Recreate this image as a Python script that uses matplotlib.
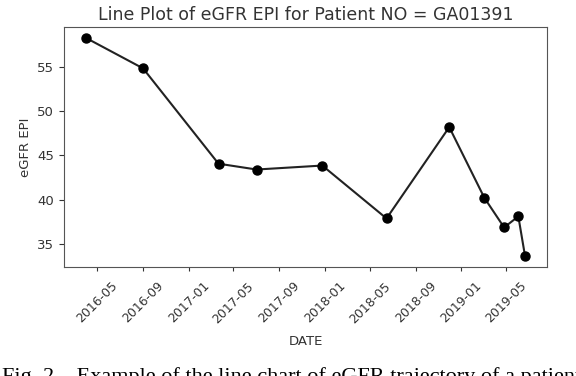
import pandas as pd
import matplotlib
matplotlib.use("Agg")
import matplotlib.pyplot as plt
import matplotlib.dates as mdates

dates = ["2016-04-01", "2016-09-01", "2017-03-22", "2017-07-02", "2017-12-25",
         "2018-06-15", "2018-11-30", "2019-03-04", "2019-04-26", "2019-06-03",
         "2019-06-21"]
egfr = [58.3, 54.85, 44.06, 43.4, 43.85, 37.86, 48.2, 40.2, 36.84, 38.1, 33.6]

patient_no = "GA01391"
caption = "Fig. 2.   Example of the line chart of eGFR trajectory of a patient"

x = pd.to_datetime(dates)

fig = plt.figure(figsize=(5.76, 3.76), dpi=100)
ax = fig.add_axes([64 / 576, 1 - 267 / 376, (547 - 64) / 576, (267 - 27) / 376])

ax.plot(x, egfr, color="#222222", marker="o", markersize=6.5, linewidth=1.5,
        markerfacecolor="black", markeredgecolor="black")

ax.set_title(f"Line Plot of eGFR EPI for Patient NO = {patient_no}",
             fontsize=12.5, color="#333333", pad=5)
ax.set_xlabel("DATE", fontsize=9.5, color="#333333", labelpad=7)
ax.set_ylabel("eGFR EPI", fontsize=9.5, color="#333333")

ax.xaxis.set_major_locator(mdates.MonthLocator(bymonth=[1, 5, 9]))
ax.xaxis.set_major_formatter(mdates.DateFormatter("%Y-%m"))
plt.setp(ax.get_xticklabels(), rotation=45, ha="center", rotation_mode="default")
ax.tick_params(labelsize=9.5, colors="#333333")
ax.tick_params(axis="x", labelsize=9, pad=6, length=3)
ax.set_yticks([35, 40, 45, 50, 55])
for s in ax.spines.values():
    s.set_color("#555555")

fig.text(2 / 576, 1 - 367 / 376, caption, family="Liberation Serif",
         fontsize=16, va="top", ha="left", color="black")

fig.savefig("out.png", dpi=100)
